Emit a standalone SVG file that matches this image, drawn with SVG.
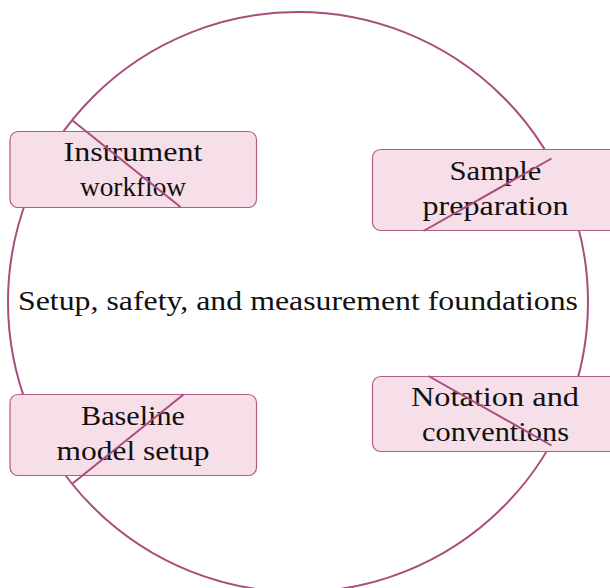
<svg xmlns="http://www.w3.org/2000/svg" width="610" height="588" viewBox="0 0 610 588">
<style>
.ring{fill:none;stroke:#a84d7c;stroke-width:2}
.box{fill:#f6dfe8;stroke:#b05d88;stroke-width:1.2}
.lbl{font-family:"Liberation Serif","Times New Roman",serif;font-size:28px;fill:#111;text-anchor:middle}
.conn{stroke:#a84d7c;stroke-width:2;fill:none}
</style>
<rect width="610" height="588" fill="#fff"/>
<g id="hub">
<circle class="ring" cx="298" cy="302" r="290"/>
<text class="lbl" x="298" y="310" textLength="560" lengthAdjust="spacingAndGlyphs">Setup, safety, and measurement foundations</text>
</g>
<g id="instrument">
<rect class="box" x="10" y="131.5" width="246.5" height="76" rx="8"/>
<text class="lbl" x="133" y="160.5" textLength="139" lengthAdjust="spacingAndGlyphs">Instrument</text>
<text class="lbl" x="133" y="196" textLength="106" lengthAdjust="spacingAndGlyphs">workflow</text>
</g>
<g id="sample">
<rect class="box" x="372.5" y="149.5" width="246" height="81" rx="8"/>
<text class="lbl" x="495.5" y="180" textLength="92" lengthAdjust="spacingAndGlyphs">Sample</text>
<text class="lbl" x="495.5" y="215" textLength="146" lengthAdjust="spacingAndGlyphs">preparation</text>
</g>
<g id="baseline">
<rect class="box" x="10" y="394.5" width="246.5" height="81" rx="8"/>
<text class="lbl" x="133" y="425" textLength="104" lengthAdjust="spacingAndGlyphs">Baseline</text>
<text class="lbl" x="133" y="460" textLength="153" lengthAdjust="spacingAndGlyphs">model setup</text>
</g>
<g id="notation">
<rect class="box" x="372.5" y="376.5" width="246" height="75" rx="8"/>
<text class="lbl" x="495" y="405.5" textLength="168" lengthAdjust="spacingAndGlyphs">Notation and</text>
<text class="lbl" x="495.5" y="441" textLength="147" lengthAdjust="spacingAndGlyphs">conventions</text>
</g>
<g id="connectors">
<line class="conn" x1="72.5" y1="120.5" x2="180.5" y2="207"/>
<line class="conn" x1="551.5" y1="158.5" x2="423.5" y2="231"/>
<line class="conn" x1="72.5" y1="483.5" x2="183.5" y2="394.5"/>
<line class="conn" x1="551.5" y1="445.5" x2="428.5" y2="376"/>
</g>
</svg>
